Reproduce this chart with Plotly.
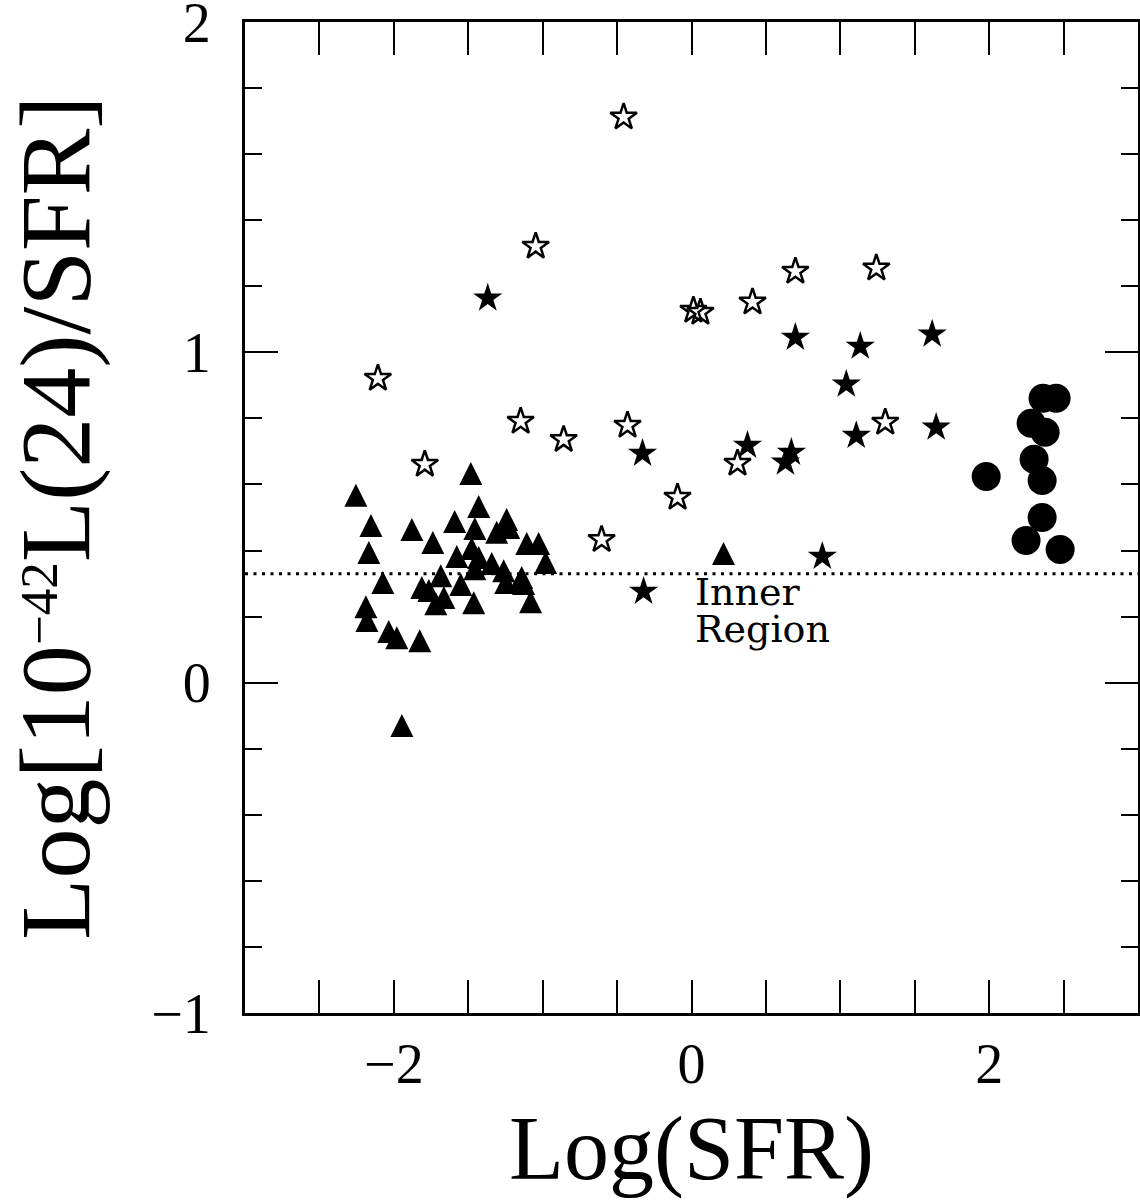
import plotly.graph_objects as go

# ---------------- data ----------------
tri_x = [-2.255, -1.483, -1.430, -2.154, -1.879, -1.591, -1.242, -1.456, -1.309, -1.228,
         -1.738, -2.168, -1.107, -1.027, -0.980, -1.577, -1.477, -1.430, -1.342, -1.456,
         -1.262, -1.141, -1.685, -2.074, -1.812, -1.765, -1.550, -1.248, -1.128, -1.664,
         -1.718, -1.463, -1.081, -2.188, -2.181, -2.034, -1.980, -1.826, -1.946, 0.215]
tri_y = [0.567, 0.633, 0.533, 0.476, 0.464, 0.488, 0.494, 0.467, 0.455, 0.470,
         0.424, 0.394, 0.421, 0.421, 0.364, 0.382, 0.406, 0.379, 0.361, 0.345,
         0.339, 0.318, 0.324, 0.303, 0.288, 0.279, 0.297, 0.303, 0.300, 0.258,
         0.239, 0.242, 0.245, 0.230, 0.188, 0.155, 0.136, 0.127, -0.130, 0.391]

circ_x = [2.362, 2.450, 2.282, 2.376, 2.302, 2.356, 1.980, 2.356, 2.248, 2.477]
circ_y = [0.861, 0.861, 0.785, 0.758, 0.676, 0.612, 0.624, 0.500, 0.430, 0.403]

fstar_x = [-1.369, -0.329, -0.322, 0.376, 0.631, 0.671, 0.698, 1.040, 1.134, 1.107,
           1.617, 1.644, 0.879]
fstar_y = [1.164, 0.694, 0.276, 0.718, 0.667, 0.697, 1.045, 0.903, 1.018, 0.748,
           1.055, 0.773, 0.382]

ostar_x = [-0.456, -1.047, -2.107, -1.148, -0.859, -0.430, -1.792, -0.604, -0.094,
           0.013, 0.060, 0.410, 0.698, 1.242, 1.302, 0.309]
ostar_y = [1.712, 1.321, 0.921, 0.791, 0.736, 0.779, 0.661, 0.433, 0.561,
           1.127, 1.121, 1.152, 1.245, 1.255, 0.788, 0.664]

inner_level = 0.33
inner_label = ["Inner", "Region"]
inner_label_y = [0.348, 0.236]
inner_label_x = 0.01

x_range = [-3, 3]
y_range = [-1, 2]
y_ticks = [-1, 0, 1, 2]
x_ticks = [-2, 0, 2]
x_title = "Log(SFR)"
y_title = ("Log[10<span style=\"font-size:76px\"><sup>\u221242</sup></span>"
           "L(24)/SFR]")

# ---------------- layout constants ----------------
W, H = 1140, 1203
MARGIN = dict(l=245, r=2, t=22, b=190)
PLOT_H = H - MARGIN["t"] - MARGIN["b"]
TRI_SIZE = 23
EPS = 1e-4
# arrow-up markers have their apex on the point; shift a twin axis by half
# a marker height so the triangle is centred on its value
tri_shift = (TRI_SIZE / 2) / (PLOT_H / (y_range[1] - y_range[0]))

SERIF = "Liberation Serif"
ANNOT_FONT = "DejaVu Serif"

fig = go.Figure()

fig.add_trace(go.Scatter(
    x=tri_x, y=tri_y, mode="markers", yaxis="y2",
    marker=dict(symbol="arrow-up", size=TRI_SIZE, color="black",
                line=dict(width=0)),
    showlegend=False))

fig.add_trace(go.Scatter(
    x=circ_x, y=circ_y, mode="markers",
    marker=dict(symbol="circle", size=29, color="black", line=dict(width=0)),
    showlegend=False))

fig.add_trace(go.Scatter(
    x=fstar_x, y=fstar_y, mode="markers",
    marker=dict(symbol="star", size=22, color="black", line=dict(width=0)),
    showlegend=False))

fig.add_trace(go.Scatter(
    x=ostar_x, y=ostar_y, mode="markers",
    marker=dict(symbol="star-open", size=20, color="black",
                line=dict(width=2.5, color="black")),
    showlegend=False))

fig.add_shape(type="line", xref="paper", yref="y", x0=0, x1=1,
              y0=inner_level, y1=inner_level, layer="below",
              line=dict(color="black", width=3, dash="3px,5.5px"))

for txt, ty in zip(inner_label, inner_label_y):
    fig.add_annotation(x=inner_label_x, y=ty, xref="x", yref="y", text=txt,
                       showarrow=False, xanchor="left", yanchor="top",
                       font=dict(family=ANNOT_FONT, size=38, color="black"))

axis_common = dict(
    showline=True, linewidth=3, linecolor="black", mirror="allticks",
    ticks="inside", tickwidth=2, tickcolor="black", ticklen=33,
    showgrid=False, zeroline=False, automargin=False,
    ticklabeloverflow="allow",
    tickfont=dict(family=SERIF, size=56, color="black"),
)

fig.update_layout(
    width=W, height=H, margin=MARGIN,
    plot_bgcolor="white", paper_bgcolor="white",
    xaxis=dict(range=[x_range[0] - EPS, x_range[1] + EPS],
               tickmode="array", tickvals=x_ticks,
               minor=dict(tickmode="linear", tick0=0, dtick=0.5, ticks="inside",
                          ticklen=17, tickwidth=2, tickcolor="black",
                          showgrid=False),
               ticklabelstandoff=0,
               title=dict(text=x_title, standoff=22,
                          font=dict(family=SERIF, size=90, color="black")),
               **axis_common),
    yaxis=dict(range=[y_range[0] - EPS, y_range[1] + EPS],
               tickmode="array", tickvals=y_ticks,
               minor=dict(tickmode="linear", tick0=0, dtick=0.2, ticks="inside",
                          ticklen=17, tickwidth=2, tickcolor="black",
                          showgrid=False),
               ticklabelstandoff=20,
               title=dict(text=y_title, standoff=58,
                          font=dict(family=SERIF, size=100, color="black")),
               **axis_common),
    yaxis2=dict(range=[y_range[0] - EPS - tri_shift, y_range[1] + EPS - tri_shift],
                overlaying="y", visible=False, showgrid=False, zeroline=False),
)

fig.write_html("out.html")
